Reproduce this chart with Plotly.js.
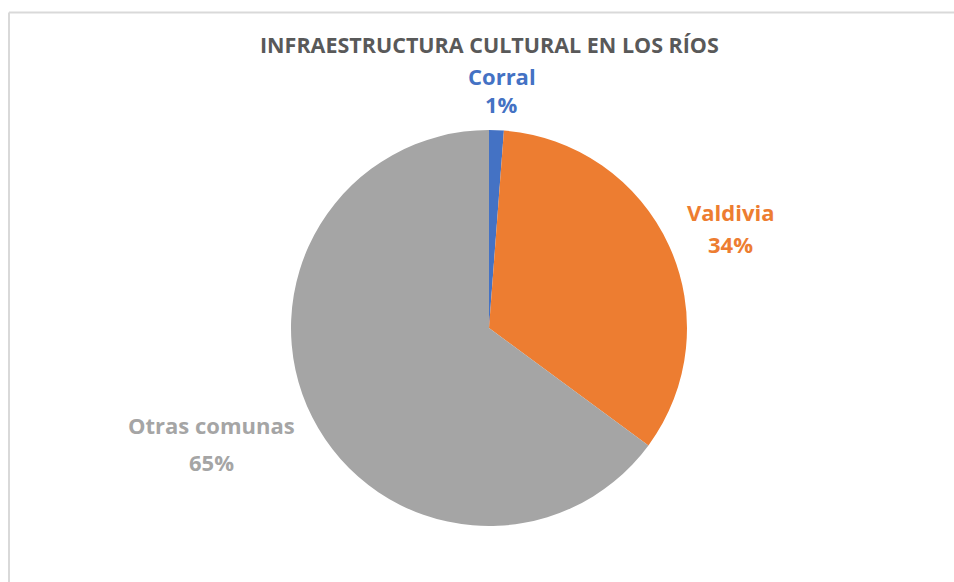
<!DOCTYPE html>
<html>
<head>
<meta charset="utf-8">
<script src="https://cdn.plot.ly/plotly-3.0.1.min.js"></script>
<style>
html,body{margin:0;padding:0;background:#fff;overflow:hidden}
#chart{width:954px;height:582px}
</style>
</head>
<body>
<div id="chart"></div>
<script>
// datos
const comunas=['Corral','Valdivia','Otras comunas'];
const valores=[1.2,33.9,64.9];
const colores=['#4472C4','#ED7D31','#A5A5A5'];
// posiciones de etiquetas (px)
const labelPos=[[502,76,104],[730,212,244],[211,425,462]];

const W=954,H=582;
const px=x=>x/W, py=y=>1-y/H;
const total=valores.reduce((a,b)=>a+b,0);

const annotations=[];
comunas.forEach((c,i)=>{
  const [x,y1,y2]=labelPos[i];
  const font={family:'Open Sans, sans-serif',size:22,color:colores[i]};
  annotations.push({xref:'paper',yref:'paper',x:px(x),y:py(y1),text:'<b>'+c+'</b>',showarrow:false,font,xanchor:'center',yanchor:'middle'});
  annotations.push({xref:'paper',yref:'paper',x:px(x),y:py(y2),text:'<b>'+Math.round(valores[i]/total*100)+'%</b>',showarrow:false,font,xanchor:'center',yanchor:'middle'});
});
annotations.push({xref:'paper',yref:'paper',x:px(490),y:py(45),text:'<b>INFRAESTRUCTURA CULTURAL EN LOS RÍOS</b>',showarrow:false,
  font:{family:'Open Sans, sans-serif',size:21.5,color:'#595959'},xanchor:'center',yanchor:'middle'});

Plotly.newPlot('chart',[{
  type:'pie',
  labels:comunas,
  values:valores,
  sort:false,
  direction:'clockwise',
  rotation:0,
  marker:{colors:colores,line:{width:0}},
  textinfo:'none',
  hoverinfo:'label+percent',
  showlegend:false,
  domain:{x:[px(291),px(687)],y:[py(526),py(130)]}
}],{
  width:W,height:H,
  margin:{l:0,r:0,t:0,b:0},
  paper_bgcolor:'#fff',
  showlegend:false,
  annotations,
  shapes:[
    {type:'line',xref:'paper',yref:'paper',x0:px(9),x1:px(960),y0:py(12.5),y1:py(12.5),line:{color:'#d9d9d9',width:2}},
    {type:'line',xref:'paper',yref:'paper',x0:px(9),x1:px(9),y0:py(12.5),y1:py(600),line:{color:'#d9d9d9',width:2}}
  ]
},{displayModeBar:false,staticPlot:true});
</script>
</body>
</html>
